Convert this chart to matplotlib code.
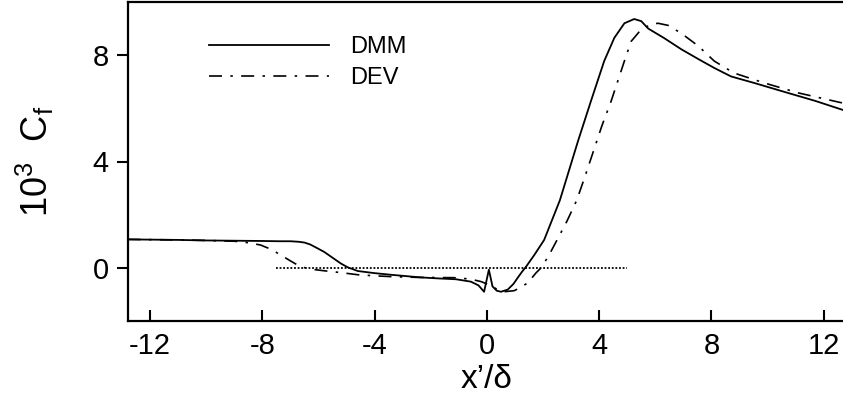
import matplotlib
matplotlib.use("Agg")
import matplotlib.pyplot as plt

plt.rcParams['font.family'] = ['Liberation Sans', 'DejaVu Sans']
plt.rcParams['mathtext.fontset'] = 'custom'
plt.rcParams['mathtext.rm'] = 'Liberation Sans'
plt.rcParams['mathtext.it'] = 'Liberation Sans'

# DMM (solid)
dmm_x = [-12.8, -11, -10, -9, -8, -7.4, -7.0, -6.7, -6.5, -6.3, -6.1, -5.8, -5.5, -5.2,
         -4.96, -4.6, -4.0, -3.43, -2.9, -2.36, -1.7, -1.1, -0.57, -0.3, -0.1, 0.07, 0.2,
         0.35, 0.5, 0.74, 0.95, 1.1, 1.25, 1.4, 1.7, 2.04, 2.6, 3.25, 3.71,
         4.18, 4.54, 4.9, 5.25, 5.5, 5.75, 6.32, 6.93, 7.54, 8.1, 8.7, 9.54, 10.5, 11.7, 12.8]
dmm_y = [1.07, 1.05, 1.03, 1.02, 1.01, 1.0, 1.0, 0.98, 0.95, 0.88, 0.77, 0.6, 0.38, 0.16,
         0.02, -0.12, -0.2, -0.26, -0.31, -0.36, -0.4, -0.43, -0.52, -0.66, -0.9, -0.07, -0.7,
         -0.86, -0.9, -0.82, -0.6, -0.37, -0.15, 0.05, 0.5, 1.05, 2.54, 4.78, 6.28,
         7.78, 8.65, 9.2, 9.36, 9.28, 9.0, 8.64, 8.22, 7.85, 7.52, 7.2, 6.95, 6.65, 6.28, 5.9]

# DEV (dash-dot)
dev_x = [-12.8, -11, -10, -9, -8.6, -8.07, -7.7, -7.36, -7.0, -6.64, -6.2, -5.8, -5.2, -4.6,
         -4.0, -3.43, -2.46, -1.17, -0.6, -0.2, 0.1, 0.35, 0.6, 0.97, 1.2, 1.46, 1.75, 1.93,
         2.2, 2.5, 2.85, 3.2, 3.5, 3.8, 4.1, 4.43, 4.9, 5.14, 5.5, 5.86, 6.1, 6.46,
         6.93, 7.54, 8.1, 8.8, 9.9, 11.1, 12.8]
dev_y = [1.07, 1.05, 1.03, 1.0, 0.96, 0.86, 0.7, 0.49, 0.26, 0.04, -0.06, -0.11, -0.18, -0.26,
         -0.3, -0.33, -0.36, -0.37, -0.42, -0.52, -0.65, -0.8, -0.9, -0.86, -0.74, -0.56, -0.19, 0.0,
         0.45, 1.05, 1.75, 2.54, 3.45, 4.4, 5.35, 6.28, 7.78, 8.52, 8.97, 9.16, 9.2, 9.12,
         8.82, 8.34, 7.78, 7.33, 6.95, 6.58, 6.17]

zero_x = [-7.5, 5.0]
zero_y = [0, 0]

xticks = [-12, -8, -4, 0, 4, 8, 12]
yticks = [0, 4, 8]

fig = plt.figure(figsize=(8.43, 3.98), dpi=100)
ax = fig.add_axes([128/843, 1-321/398, 1-128/843+0.002, (321-2)/398])

ax.plot(dmm_x, dmm_y, color='black', lw=1.3, label='DMM')
ax.plot(dev_x, dev_y, color='black', lw=1.2, dashes=(7.8, 5, 1.5, 5), label='DEV')
ax.plot(zero_x, zero_y, color='black', lw=1.3, ls=(0, (1, 1)))

ax.set_xlim(-12.79, 12.75)
ax.set_ylim(-2, 10)
ax.set_xticks(xticks)
ax.set_xticklabels([str(t) for t in xticks])
ax.set_yticks(yticks)
ax.set_yticklabels([str(t) for t in yticks])
ax.tick_params(axis='x', direction='in', length=8, width=1.5, labelsize=21, pad=8)
ax.tick_params(axis='y', direction='out', length=8, width=1.5, labelsize=21, pad=6)
for s in ['left', 'bottom', 'top']:
    ax.spines[s].set_linewidth(1.6)
ax.spines['right'].set_visible(False)

ax.set_xlabel("x\u2019/\u03b4", fontsize=24, labelpad=3)
ax.set_ylabel("10$^3$  C$_\\mathrm{f}$", fontsize=26, labelpad=26)

leg = ax.legend(loc='upper left', bbox_to_anchor=(0.083, 0.96), frameon=False,
                fontsize=17, handlelength=5.1, handletextpad=0.9, labelspacing=0.4)

fig.savefig("out.png", dpi=100)
